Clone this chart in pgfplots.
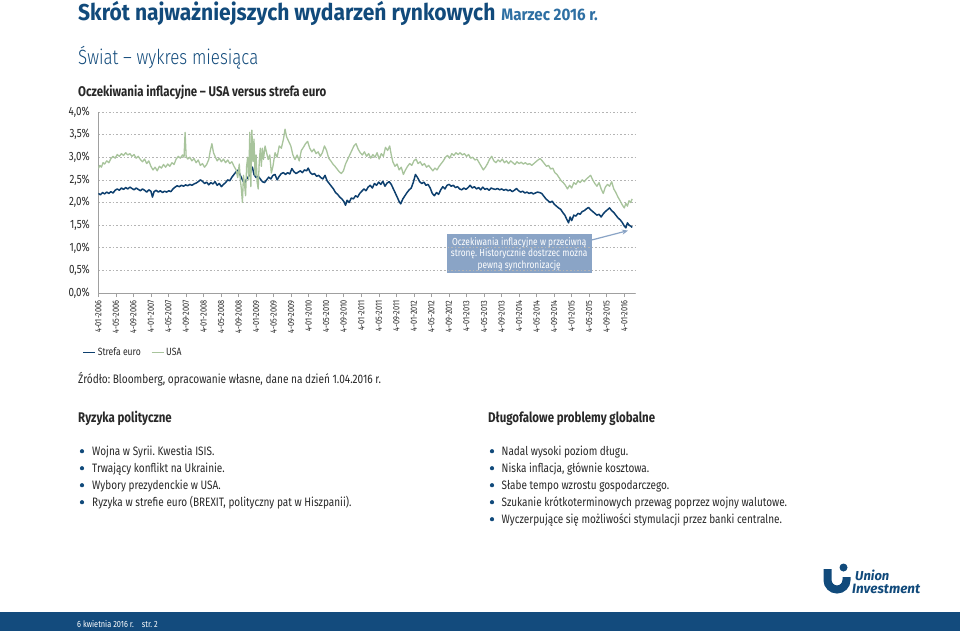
\documentclass[border=0pt]{standalone}
\usepackage{pgfplots}
\pgfplotsset{compat=1.18}
\usepackage{fontspec}
\setmainfont{Fira Sans}[FakeStretch=0.82]
\newfontfamily\titlefont{Fira Sans}[FakeStretch=0.915]
\newfontfamily\lightfont{Fira Sans Light}[FakeStretch=0.82]
\newfontfamily\logofont{Fira Sans}
\usetikzlibrary{arrows.meta}
\frenchspacing
\definecolor{titleblue}{RGB}{17,74,123}
\definecolor{lightblue}{RGB}{46,111,163}
\definecolor{navy}{RGB}{13,63,110}
\definecolor{sage}{RGB}{168,196,156}
\definecolor{band}{RGB}{19,75,125}
\definecolor{boxblue}{RGB}{138,164,198}
\definecolor{textgray}{RGB}{40,40,40}
\definecolor{axisgray}{RGB}{160,160,160}
\definecolor{gridgray}{RGB}{180,180,180}
\begin{document}
\begin{tikzpicture}
\useasboundingbox (0,0) rectangle (960pt,-631pt);
\fill[white] (0,0) rectangle (960pt,-631pt);
\begin{scope}[x=1pt,y=-1pt]
\node[anchor=base west,inner sep=0,text=titleblue,font=\titlefont\fontsize{23}{27}\selectfont\bfseries] at (78,21) {Skrót najważniejszych wydarzeń rynkowych\hspace{6pt}{\fontsize{16.6}{19}\selectfont\color{lightblue}Marzec 2016 r.}};
\node[anchor=base west,inner sep=0,text=titleblue,font=\lightfont\fontsize{20.6}{25}\selectfont] at (78,65) {Świat – wykres miesiąca};
\node[anchor=base west,inner sep=0,text=textgray,font=\fontsize{14}{16}\selectfont\bfseries] at (78,97) {Oczekiwania inflacyjne – USA versus strefa euro};
\node[anchor=base west,inner sep=0,text=textgray,font=\fontsize{12.3}{14}\selectfont] at (78,383) {Źródło: Bloomberg, opracowanie własne, dane na dzień 1.04.2016 r.};
% headings
\node[anchor=base west,inner sep=0,text=textgray,font=\fontsize{14}{16}\selectfont\bfseries] at (78,422) {Ryzyka polityczne};
\node[anchor=base west,inner sep=0,text=textgray,font=\fontsize{14}{16}\selectfont\bfseries] at (488,422) {Długofalowe problemy globalne};
% bullets left
\foreach \yy/\tt in {455.5/{Wojna w Syrii. Kwestia ISIS.},472.5/{Trwający konflikt na Ukrainie.},489.5/{Wybory prezydenckie w USA.},506.5/{Ryzyka w strefie euro (BREXIT, polityczny pat w Hiszpanii).}}{
  \fill[titleblue] (82,\yy-4.3) circle[radius=2.1];
  \node[anchor=base west,inner sep=0,text=textgray,font=\fontsize{12.2}{15}\selectfont] at (92,\yy) {\tt};
}
\foreach \yy/\tt in {455.5/{Nadal wysoki poziom długu.},472.5/{Niska inflacja, głównie kosztowa.},489.5/{Słabe tempo wzrostu gospodarczego.},506.5/{Szukanie krótkoterminowych przewag poprzez wojny walutowe.},523.5/{Wyczerpujące się możliwości stymulacji przez banki centralne.}}{
  \fill[titleblue] (492,\yy-4.3) circle[radius=2.1];
  \node[anchor=base west,inner sep=0,text=textgray,font=\fontsize{12.2}{15}\selectfont] at (501.5,\yy) {\tt};
}
% annotation box
\fill[boxblue] (446.7,234) rectangle (591.7,273.3);
\node[text=white,align=center,inner sep=0,font=\fontsize{10.2}{11.6}\selectfont] at (519.2,254) {Oczekiwania inflacyjne w przeciwną\\stronę. Historycznie dostrzec można\\pewną synchronizację};
\draw[boxblue,line width=1.2,-{Stealth[length=6pt,width=5pt]}] (591.7,240) -- (628,230.6);
% logo
\draw[titleblue,line width=8] (827.5,569) -- (827.5,580) arc[start angle=180,end angle=0,radius=9.5] -- (846.5,577);
\fill[titleblue] (843.5,567.5) circle[radius=4];
\node[anchor=base west,inner sep=0,text=titleblue,font=\logofont\fontsize{13}{15}\selectfont\bfseries\itshape] at (855,580.3) {Union};
\node[anchor=base west,inner sep=0,text=titleblue,font=\logofont\fontsize{13.5}{15}\selectfont\bfseries\itshape] at (852,593.5) {Investment};
% bottom band
\fill[band] (0,612) rectangle (960,631);
\node[anchor=base west,inner sep=0,text=white,font=\fontsize{9}{11}\selectfont] at (77,627.5) {6 kwietnia 2016 r.\hspace{8pt}str. 2};
\end{scope}
\begin{axis}[
  at={(98.3pt,-293pt)}, anchor=south west,
  scale only axis, width=536.5pt, height=181pt,
  xmin=2006, xmax=2016.2, ymin=0, ymax=4,
  axis x line*=bottom, axis y line*=left,
  axis line style={axisgray,line width=0.8pt},
  ytick={0,0.5,1,1.5,2,2.5,3,3.5,4},
  yticklabels={{0,0\%},{0,5\%},{1,0\%},{1,5\%},{2,0\%},{2,5\%},{3,0\%},{3,5\%},{4,0\%}},
  yticklabel style={font=\fontsize{12}{13}\selectfont,text=textgray,xshift=-1pt},
  ytick style={draw=none},
  xtick={2006,2006.3333,2006.6667,2007,2007.3333,2007.6667,2008,2008.3333,2008.6667,2009,2009.3333,2009.6667,2010,2010.3333,2010.6667,2011,2011.3333,2011.6667,2012,2012.3333,2012.6667,2013,2013.3333,2013.6667,2014,2014.3333,2014.6667,2015,2015.3333,2015.6667,2016},
  xticklabels={4-01-2006,4-05-2006,4-09-2006,4-01-2007,4-05-2007,4-09-2007,4-01-2008,4-05-2008,4-09-2008,4-01-2009,4-05-2009,4-09-2009,4-01-2010,4-05-2010,4-09-2010,4-01-2011,4-05-2011,4-09-2011,4-01-2012,4-05-2012,4-09-2012,4-01-2013,4-05-2013,4-09-2013,4-01-2014,4-05-2014,4-09-2014,4-01-2015,4-05-2015,4-09-2015,4-01-2016},
  xticklabel style={rotate=90,anchor=east,font=\fontsize{9}{10}\selectfont,text=textgray},
  xtick style={axisgray,line width=0.6pt},
  major tick length=4pt, tick align=outside,
  ymajorgrids, grid style={gridgray,line width=0.6pt,dash pattern=on 1.6pt off 2pt},
  legend style={at={(-0.03,-0.33)},anchor=west,draw=none,fill=none,font=\fontsize{10.5}{12}\selectfont\color{textgray},inner sep=0pt},
  legend columns=2,
  legend cell align=left,
  /tikz/every even column/.append style={column sep=8pt},
  legend image code/.code={\draw[#1,line width=1.4pt] (0pt,0pt) -- (12pt,0pt);},
]
\addplot[navy,line width=1.5pt,line join=round] coordinates {
(2006.00,2.20) (2006.04,2.17) (2006.08,2.22) (2006.12,2.19) (2006.16,2.23) (2006.20,2.20) (2006.24,2.24) (2006.28,2.21)
(2006.32,2.27) (2006.36,2.30) (2006.40,2.27) (2006.44,2.32) (2006.48,2.29) (2006.52,2.33) (2006.56,2.30) (2006.60,2.34)
(2006.64,2.31) (2006.68,2.28) (2006.72,2.32) (2006.76,2.29) (2006.80,2.26) (2006.84,2.30) (2006.88,2.27) (2006.92,2.23)
(2006.96,2.28) (2007.00,2.25) (2007.03,2.12) (2007.06,2.24) (2007.10,2.27) (2007.14,2.23) (2007.18,2.26) (2007.22,2.22)
(2007.26,2.25) (2007.30,2.23) (2007.34,2.26) (2007.38,2.24) (2007.42,2.30) (2007.46,2.34) (2007.50,2.37) (2007.54,2.35)
(2007.58,2.38) (2007.62,2.36) (2007.66,2.39) (2007.70,2.37) (2007.74,2.40) (2007.78,2.38) (2007.82,2.41) (2007.86,2.43)
(2007.90,2.46) (2007.94,2.50) (2007.98,2.47) (2008.02,2.42) (2008.06,2.45) (2008.10,2.39) (2008.14,2.44) (2008.18,2.41)
(2008.22,2.46) (2008.26,2.38) (2008.30,2.42) (2008.34,2.35) (2008.38,2.40) (2008.42,2.44) (2008.46,2.50) (2008.50,2.48)
(2008.54,2.56) (2008.58,2.62) (2008.62,2.68) (2008.66,2.72) (2008.70,2.60) (2008.74,2.50) (2008.78,2.42) (2008.82,2.52)
(2008.86,2.58) (2008.90,2.70) (2008.93,2.78) (2008.96,2.62) (2009.00,2.55) (2009.04,2.58) (2009.08,2.52) (2009.12,2.46)
(2009.16,2.44) (2009.20,2.50) (2009.24,2.56) (2009.28,2.52) (2009.32,2.60) (2009.36,2.62) (2009.40,2.50) (2009.44,2.58)
(2009.48,2.64) (2009.52,2.66) (2009.56,2.62) (2009.60,2.66) (2009.64,2.63) (2009.68,2.75) (2009.72,2.68) (2009.76,2.64)
(2009.80,2.67) (2009.84,2.70) (2009.88,2.66) (2009.92,2.72) (2009.96,2.70) (2009.99,2.76) (2010.03,2.66) (2010.07,2.62)
(2010.11,2.64) (2010.15,2.58) (2010.19,2.60) (2010.23,2.55) (2010.27,2.52) (2010.31,2.60) (2010.35,2.48) (2010.39,2.42)
(2010.43,2.36) (2010.47,2.30) (2010.51,2.22) (2010.55,2.18) (2010.59,2.12) (2010.63,2.08) (2010.67,2.02) (2010.70,1.94)
(2010.73,2.05) (2010.77,2.00) (2010.81,2.10) (2010.85,2.08) (2010.89,2.15) (2010.93,2.12) (2010.97,2.20) (2011.01,2.25)
(2011.05,2.30) (2011.09,2.26) (2011.13,2.34) (2011.17,2.38) (2011.21,2.32) (2011.25,2.42) (2011.29,2.38) (2011.33,2.45)
(2011.37,2.40) (2011.41,2.47) (2011.45,2.36) (2011.49,2.43) (2011.53,2.46) (2011.57,2.40) (2011.61,2.30) (2011.65,2.20)
(2011.69,2.10) (2011.72,2.02) (2011.75,1.97) (2011.79,2.08) (2011.83,2.15) (2011.87,2.22) (2011.91,2.28) (2011.95,2.32)
(2011.99,2.45) (2012.03,2.62) (2012.07,2.55) (2012.11,2.46) (2012.15,2.42) (2012.19,2.45) (2012.23,2.38) (2012.27,2.40)
(2012.31,2.32) (2012.35,2.20) (2012.39,2.15) (2012.43,2.22) (2012.47,2.18) (2012.51,2.28) (2012.55,2.35) (2012.59,2.30)
(2012.63,2.38) (2012.67,2.40) (2012.71,2.36) (2012.75,2.38) (2012.79,2.33) (2012.83,2.35) (2012.87,2.30) (2012.91,2.28)
(2012.95,2.32) (2012.99,2.29) (2013.03,2.33) (2013.07,2.38) (2013.11,2.32) (2013.15,2.35) (2013.19,2.30) (2013.23,2.33)
(2013.27,2.28) (2013.31,2.34) (2013.35,2.29) (2013.39,2.31) (2013.43,2.27) (2013.47,2.32) (2013.51,2.30) (2013.55,2.29)
(2013.59,2.31) (2013.63,2.28) (2013.67,2.30) (2013.71,2.27) (2013.75,2.29) (2013.79,2.26) (2013.83,2.28) (2013.87,2.24)
(2013.91,2.27) (2013.95,2.31) (2013.99,2.26) (2014.03,2.23) (2014.07,2.25) (2014.11,2.21) (2014.15,2.23) (2014.19,2.20)
(2014.23,2.22) (2014.27,2.19) (2014.31,2.21) (2014.35,2.23) (2014.39,2.22) (2014.43,2.20) (2014.47,2.14) (2014.51,2.08)
(2014.55,2.04) (2014.59,2.00) (2014.63,2.03) (2014.67,1.96) (2014.71,1.92) (2014.75,1.88) (2014.79,1.85) (2014.83,1.78)
(2014.87,1.72) (2014.91,1.62) (2014.94,1.55) (2014.97,1.68) (2015.00,1.60) (2015.04,1.72) (2015.08,1.70) (2015.12,1.76)
(2015.16,1.74) (2015.20,1.80) (2015.24,1.82) (2015.28,1.86) (2015.32,1.89) (2015.36,1.84) (2015.40,1.80) (2015.44,1.76)
(2015.48,1.72) (2015.52,1.74) (2015.56,1.68) (2015.60,1.75) (2015.64,1.80) (2015.68,1.84) (2015.72,1.88) (2015.76,1.82)
(2015.80,1.78) (2015.84,1.72) (2015.88,1.66) (2015.92,1.62) (2015.96,1.56) (2016.00,1.48) (2016.03,1.44) (2016.06,1.55)
(2016.09,1.50) (2016.12,1.48) (2016.15,1.45)
};
\addlegendentry{Strefa euro}
\addplot[sage,line width=1.3pt,line join=round] coordinates {
(2006.00,2.75) (2006.03,2.82) (2006.06,2.78) (2006.09,2.88) (2006.12,2.85) (2006.16,2.92) (2006.20,2.88) (2006.24,2.97)
(2006.28,3.02) (2006.32,2.98) (2006.36,3.06) (2006.40,3.02) (2006.44,3.08) (2006.48,3.04) (2006.52,3.10) (2006.56,3.05)
(2006.60,3.08) (2006.64,3.02) (2006.68,3.06) (2006.72,2.98) (2006.76,3.02) (2006.80,2.95) (2006.84,2.90) (2006.88,2.96)
(2006.92,2.86) (2006.96,2.92) (2007.00,2.80) (2007.04,2.72) (2007.08,2.78) (2007.12,2.70) (2007.16,2.80) (2007.20,2.76)
(2007.24,2.84) (2007.28,2.78) (2007.32,2.85) (2007.36,2.80) (2007.40,2.88) (2007.44,2.84) (2007.48,2.96) (2007.52,3.02)
(2007.56,2.98) (2007.60,3.05) (2007.63,3.00) (2007.65,3.55) (2007.67,3.02) (2007.70,2.96) (2007.74,3.00) (2007.78,2.92)
(2007.82,2.97) (2007.86,2.88) (2007.90,2.94) (2007.94,2.82) (2007.98,2.86) (2008.02,2.78) (2008.06,2.84) (2008.10,2.95)
(2008.13,3.15) (2008.16,3.30) (2008.19,3.10) (2008.22,3.02) (2008.26,2.92) (2008.30,2.98) (2008.34,2.90) (2008.38,2.96)
(2008.42,2.88) (2008.46,2.94) (2008.50,2.86) (2008.54,2.90) (2008.58,2.80) (2008.62,2.72) (2008.65,2.55) (2008.68,2.85)
(2008.70,2.50) (2008.72,2.30) (2008.74,2.00) (2008.76,2.60) (2008.78,2.40) (2008.80,2.15) (2008.82,2.80) (2008.84,3.00)
(2008.86,2.50) (2008.88,3.55) (2008.90,2.35) (2008.92,3.60) (2008.94,2.90) (2008.96,3.40) (2008.98,2.60) (2009.00,3.05)
(2009.02,2.45) (2009.04,2.30) (2009.06,2.90) (2009.08,3.20) (2009.10,2.80) (2009.12,3.20) (2009.14,2.95) (2009.17,3.25)
(2009.20,3.10) (2009.23,2.95) (2009.26,3.05) (2009.29,2.65) (2009.32,2.80) (2009.36,3.10) (2009.40,3.00) (2009.44,3.25)
(2009.48,3.20) (2009.52,3.40) (2009.55,3.62) (2009.58,3.45) (2009.62,3.35) (2009.66,3.25) (2009.70,3.05) (2009.74,2.95)
(2009.78,3.05) (2009.82,2.92) (2009.86,3.15) (2009.90,3.22) (2009.94,3.30) (2009.98,3.35) (2010.02,3.20) (2010.06,3.12)
(2010.10,3.18) (2010.14,3.08) (2010.18,3.12) (2010.22,3.02) (2010.26,3.10) (2010.30,3.25) (2010.34,3.15) (2010.38,2.98)
(2010.42,2.92) (2010.46,2.85) (2010.50,2.80) (2010.54,2.74) (2010.58,2.68) (2010.62,2.64) (2010.66,2.70) (2010.70,2.85)
(2010.74,2.95) (2010.78,3.05) (2010.82,3.15) (2010.86,3.25) (2010.90,3.30) (2010.94,3.18) (2010.98,3.10) (2011.02,3.05)
(2011.06,3.12) (2011.10,3.02) (2011.14,3.08) (2011.18,2.98) (2011.22,3.06) (2011.26,3.00) (2011.30,3.10) (2011.34,2.96)
(2011.38,3.08) (2011.42,3.02) (2011.46,3.22) (2011.50,3.15) (2011.54,3.25) (2011.57,3.05) (2011.60,2.90) (2011.64,2.80)
(2011.68,2.85) (2011.72,2.72) (2011.76,2.78) (2011.80,2.62) (2011.84,2.72) (2011.88,2.80) (2011.92,2.86) (2011.96,2.82)
(2012.00,2.92) (2012.04,2.96) (2012.08,2.86) (2012.12,2.90) (2012.16,2.82) (2012.20,2.86) (2012.24,2.78) (2012.28,2.82)
(2012.32,2.76) (2012.36,2.70) (2012.40,2.76) (2012.44,2.72) (2012.48,2.80) (2012.52,2.86) (2012.56,2.92) (2012.60,3.00)
(2012.64,3.04) (2012.68,2.98) (2012.72,3.08) (2012.76,3.04) (2012.80,3.10) (2012.84,3.06) (2012.88,3.10) (2012.92,3.05)
(2012.96,3.08) (2013.00,3.02) (2013.04,3.06) (2013.08,2.98) (2013.12,3.00) (2013.16,2.94) (2013.20,2.96) (2013.24,2.88)
(2013.28,2.80) (2013.32,2.72) (2013.36,2.78) (2013.40,2.86) (2013.44,2.96) (2013.48,3.02) (2013.52,2.92) (2013.56,2.88)
(2013.60,2.94) (2013.64,2.90) (2013.68,2.96) (2013.72,2.88) (2013.76,2.92) (2013.80,2.86) (2013.84,2.92) (2013.88,2.88)
(2013.92,2.84) (2013.96,2.90) (2014.00,2.86) (2014.04,2.89) (2014.08,2.85) (2014.12,2.88) (2014.16,2.84) (2014.20,2.86)
(2014.24,2.82) (2014.28,2.86) (2014.32,2.90) (2014.36,2.94) (2014.40,2.97) (2014.44,2.92) (2014.48,2.86) (2014.52,2.80)
(2014.56,2.82) (2014.60,2.74) (2014.64,2.76) (2014.68,2.66) (2014.72,2.62) (2014.76,2.55) (2014.80,2.48) (2014.84,2.44)
(2014.88,2.38) (2014.92,2.30) (2014.96,2.38) (2015.00,2.32) (2015.04,2.44) (2015.08,2.40) (2015.12,2.48) (2015.16,2.44)
(2015.20,2.50) (2015.24,2.46) (2015.28,2.52) (2015.32,2.56) (2015.36,2.60) (2015.40,2.50) (2015.44,2.42) (2015.48,2.36)
(2015.52,2.44) (2015.56,2.30) (2015.60,2.20) (2015.64,2.34) (2015.68,2.40) (2015.72,2.36) (2015.76,2.46) (2015.80,2.30)
(2015.84,2.22) (2015.88,2.12) (2015.92,2.04) (2015.96,1.95) (2016.00,1.88) (2016.03,1.98) (2016.06,1.92) (2016.09,2.04)
(2016.12,2.00) (2016.15,2.08)
};
\addlegendentry{USA}
\end{axis}
\end{tikzpicture}
\end{document}
